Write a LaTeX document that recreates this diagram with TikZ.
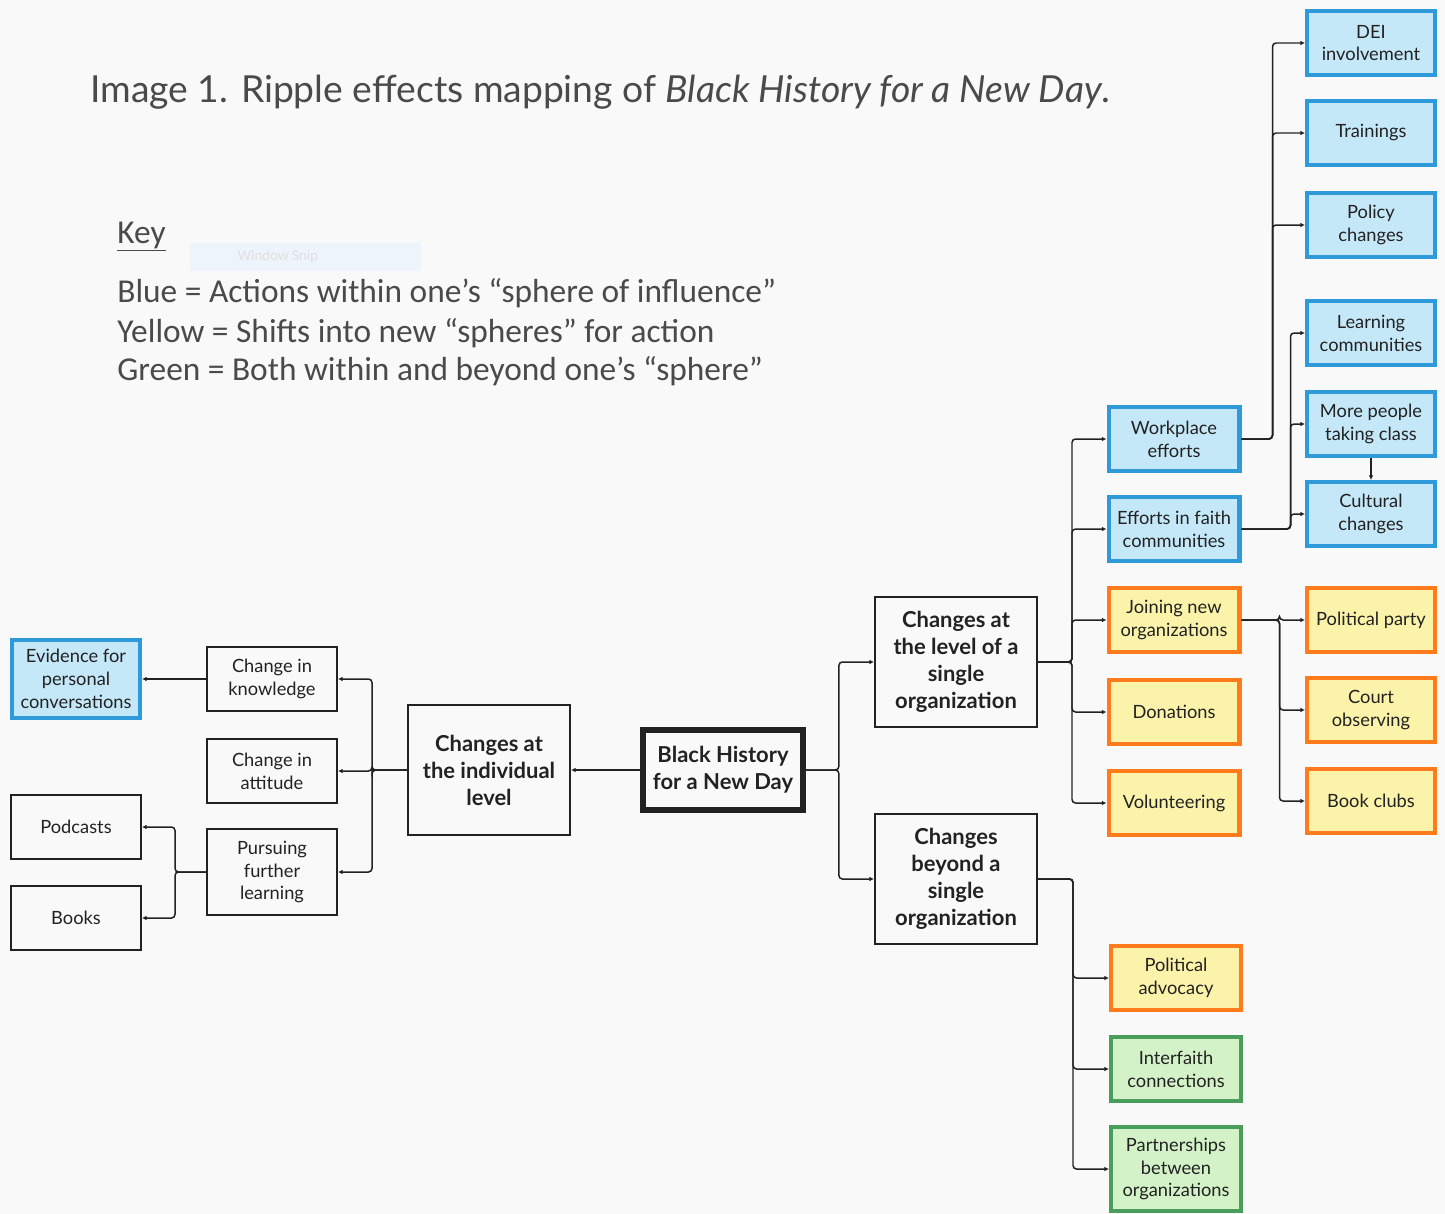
\documentclass[tikz,border=0pt]{standalone}
\usepackage{fontspec}
\setmainfont{Lato}
\newfontfamily\keyfont{Carlito}
\usetikzlibrary{arrows.meta,positioning,calc}
\definecolor{bgcol}{RGB}{249,249,249}
\definecolor{skyfill}{RGB}{197,232,248}
\definecolor{skyline}{RGB}{46,154,217}
\definecolor{sunfill}{RGB}{251,243,170}
\definecolor{sunline}{RGB}{255,123,28}
\definecolor{leaffill}{RGB}{212,242,200}
\definecolor{leafline}{RGB}{74,158,92}
\definecolor{inkcol}{RGB}{34,34,34}
\definecolor{titlecol}{RGB}{74,74,74}
\definecolor{snipfill}{RGB}{238,244,251}

\begin{document}
\begin{tikzpicture}[x=0.02cm,y=-0.02cm,
    box/.style={draw=inkcol,fill=bgcol,line width=1.15pt,align=center,inner sep=0pt,
      text=inkcol,font=\fontsize{10.4}{13}\selectfont,minimum width=2.6cm,minimum height=1.28cm},
    hub/.style={box,font=\bfseries\fontsize{12.5}{15.4}\selectfont,minimum width=3.24cm,minimum height=2.6cm},
    blu/.style={box,draw=skyline,fill=skyfill,line width=2.3pt,minimum width=2.56cm},
    ylw/.style={box,draw=sunline,fill=sunfill,line width=2.3pt,minimum width=2.56cm},
    grn/.style={box,draw=leafline,fill=leaffill,line width=2.3pt,minimum width=2.6cm},
    keyline/.style={anchor=base west,inner sep=0pt,text=titlecol,font=\keyfont\fontsize{19}{22}\selectfont},
    link/.style={draw=inkcol,line width=0.85pt,rounded corners=2pt,-{Latex[length=2.6pt,width=2.6pt]}}]
  \useasboundingbox (0,0) rectangle (1445,1214);
  \fill[bgcol] (0,0) rectangle (1445,1214);
  % heading and key
  \draw (90,102) node[anchor=base west,inner sep=0pt,text=titlecol,font=\fontsize{21.2}{26}\selectfont]
    (title) {Image 1. Ripple effects mapping of \textit{Black History for a New Day}.};
  \fill[snipfill] (190,243) rectangle (421,271);
  \draw (278,257) node[text=black!12,font=\keyfont\fontsize{8.5}{10}\selectfont] (snip) {Window Snip};
  \draw (117,243) node[keyline] (key) {\underline{Key}};
  \draw (117,302) node[keyline] (kblue) {Blue = Actions within one’s “sphere of influence”};
  \draw (117,342) node[keyline] (kyellow) {Yellow = Shifts into new “spheres” for action};
  \draw (117,380) node[keyline] (kgreen) {Green = Both within and beyond one’s “sphere”};
  % centre and first level
  \draw (723,770) node[hub,line width=3.3pt,minimum width=3.2cm,minimum height=1.6cm] (bh) {Black History\\for a New Day};
  \draw (489,770) node[hub] (indiv) {Changes at\\the individual\\level};
  \draw (956,662) node[hub] (single) {Changes at\\the level of a\\single\\organization};
  \draw (956,879) node[hub] (beyond) {Changes\\beyond a\\single\\organization};
  % individual side
  \draw (272,679) node[box] (know) {Change in\\knowledge};
  \draw (272,771) node[box] (att) {Change in\\attitude};
  \draw (272,872) node[box,minimum height=1.72cm] (purs) {Pursuing\\further\\learning};
  \draw (76,679) node[blu,minimum height=1.56cm] (ev) {Evidence for\\personal\\conversations};
  \draw (76,827) node[box] (pod) {Podcasts};
  \draw (76,918) node[box] (books) {Books};
  % single organization side
  \draw (1174,439) node[blu,minimum width=2.62cm] (work) {Workplace\\efforts};
  \draw (1174,529) node[blu,minimum width=2.62cm] (faith) {Efforts in faith\\communities};
  \draw (1174,620) node[ylw,minimum width=2.62cm] (join) {Joining new\\organizations};
  \draw (1174,712) node[ylw,minimum width=2.62cm] (don) {Donations};
  \draw (1174,803) node[ylw,minimum width=2.62cm] (vol) {Volunteering};
  \draw (1371,43) node[blu] (dei) {DEI\\involvement};
  \draw (1371,133) node[blu] (train) {Trainings};
  \draw (1371,225) node[blu] (policy) {Policy\\changes};
  \draw (1371,333) node[blu] (learn) {Learning\\communities};
  \draw (1371,424) node[blu] (more) {More people\\taking class};
  \draw (1371,514) node[blu] (cult) {Cultural\\changes};
  \draw (1371,620) node[ylw] (party) {Political party};
  \draw (1371,710) node[ylw] (court) {Court\\observing};
  \draw (1371,801) node[ylw] (bookc) {Book clubs};
  % beyond a single organization
  \draw (1176,978) node[ylw,minimum width=2.6cm] (advoc) {Political\\advocacy};
  \draw (1176,1069) node[grn] (inter) {Interfaith\\connections};
  \draw (1176,1169) node[grn,minimum height=1.68cm] (partner) {Partnerships\\between\\organizations};
  % connectors
  \draw[link] (bh.west) -- (indiv.east);
  \foreach \n in {know,att,purs} \draw[link] (indiv.west) -- ++(-35,0) |- (\n.east);
  \draw[link] (know.west) -- (ev.east);
  \foreach \n in {pod,books} \draw[link] (purs.west) -- ++(-31,0) |- (\n.east);
  \foreach \n in {single,beyond} \draw[link] (bh.east) -- ++(33,0) |- (\n.west);
  \foreach \n in {work,faith,join,don,vol} \draw[link] (single.east) -- ++(34,0) |- (\n.west);
  \foreach \n in {dei,train,policy} \draw[link] (work.east) -- ++(31,0) |- (\n.west);
  \foreach \n in {learn,more,cult} \draw[link] (faith.east) -- ++(49,0) |- (\n.west);
  \foreach \n in {party,court,bookc} \draw[link] (join.east) -- ++(38,0) |- (\n.west);
  \foreach \n in {advoc,inter,partner} \draw[link] (beyond.east) -- ++(35,0) |- (\n.west);
  \draw[link] (more.south) -- (cult.north);
\end{tikzpicture}
\end{document}
